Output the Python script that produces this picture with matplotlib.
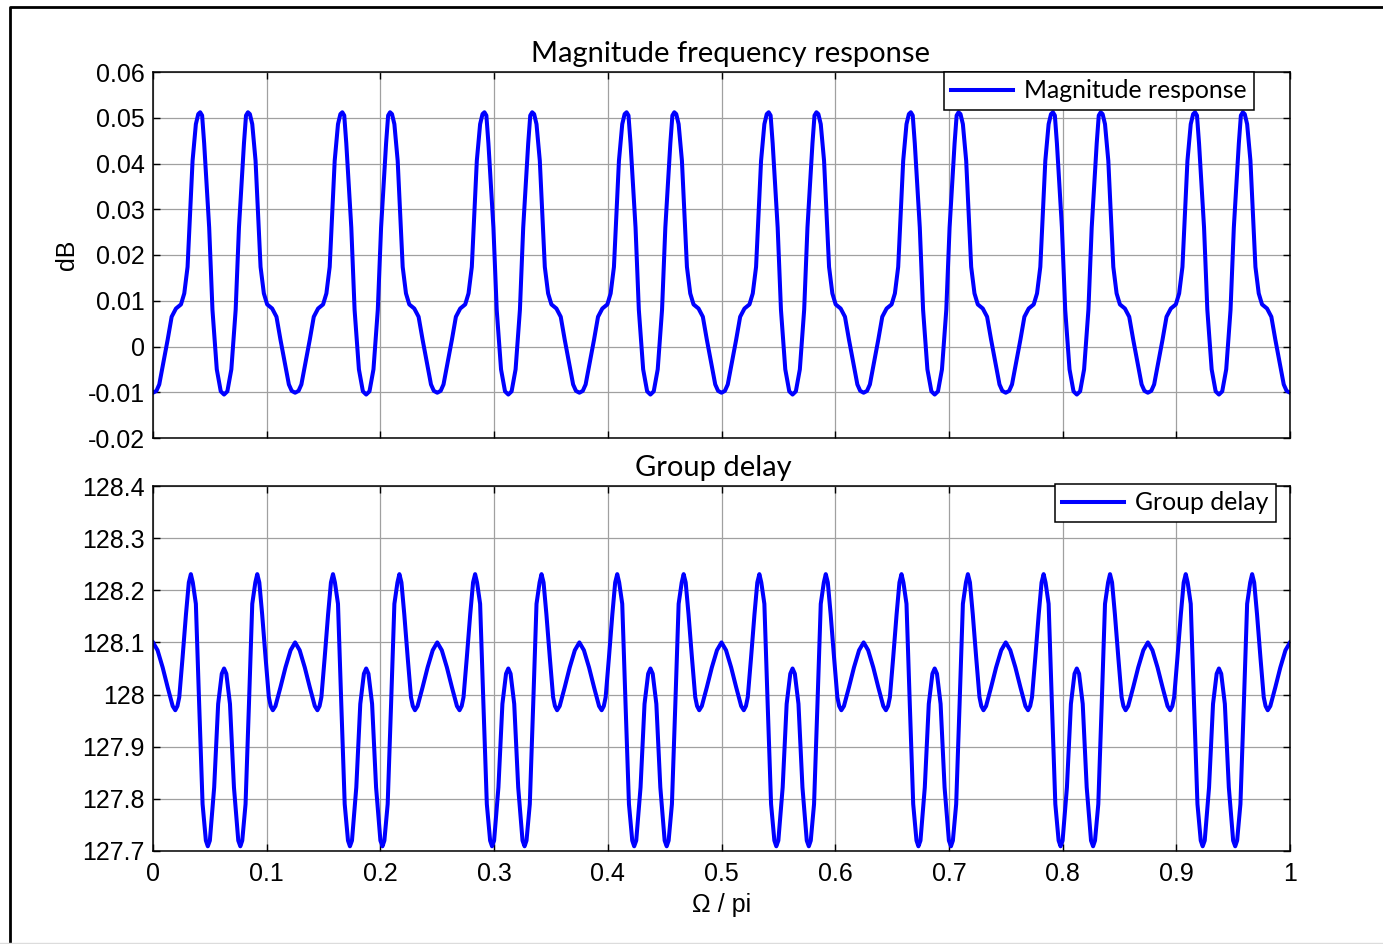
import numpy as np
import matplotlib
matplotlib.use("Agg")
import matplotlib.pyplot as plt
from matplotlib.lines import Line2D

# ---------------- data ----------------
period = 0.125
period_starts = [0.0, 0.125, 0.25, 0.375, 0.5, 0.625, 0.75, 0.875]

# one period of the magnitude response (offset within period, dB)
mag_dx = [0.0000, 0.0030, 0.0055, 0.0085, 0.0129, 0.0164, 0.0202, 0.0246,
          0.0275, 0.0304, 0.0327, 0.0348, 0.0377, 0.0398, 0.0415, 0.0432,
          0.0450, 0.0494, 0.0523, 0.0561, 0.0596, 0.0625, 0.0654, 0.0689,
          0.0727, 0.0756, 0.0800, 0.0818, 0.0835, 0.0852, 0.0873, 0.0902,
          0.0923, 0.0946, 0.0975, 0.1004, 0.1048, 0.1086, 0.1121, 0.1165,
          0.1195, 0.1220]
mag_y = [-0.0101, -0.0097, -0.0083, -0.0043, 0.0015, 0.0065, 0.0083, 0.0092,
         0.0116, 0.0174, 0.0297, 0.0406, 0.0486, 0.0508, 0.0512, 0.0505,
         0.0444, 0.0260, 0.0080, -0.0050, -0.0098, -0.0105, -0.0098, -0.0050,
         0.0080, 0.0260, 0.0444, 0.0505, 0.0512, 0.0508, 0.0486, 0.0406,
         0.0297, 0.0174, 0.0116, 0.0092, 0.0083, 0.0065, 0.0015, -0.0043,
         -0.0083, -0.0097]
mag_end = (1.0, -0.0101)

# one period of the group delay (offset within period, samples)
gd_dx = [0.0000, 0.0040, 0.0085, 0.0129, 0.0173, 0.0196, 0.0215, 0.0231,
         0.0260, 0.0290, 0.0315, 0.0333, 0.0350, 0.0377, 0.0406, 0.0436,
         0.0465, 0.0482, 0.0500, 0.0538, 0.0573, 0.0605, 0.0625, 0.0645,
         0.0677, 0.0712, 0.0750, 0.0768, 0.0785, 0.0814, 0.0844, 0.0873,
         0.0900, 0.0917, 0.0935, 0.0960, 0.0990, 0.1019, 0.1035, 0.1054,
         0.1077, 0.1121, 0.1165, 0.1210]
gd_y = [128.100, 128.085, 128.052, 128.014, 127.978, 127.970, 127.978, 127.995,
        128.071, 128.154, 128.215, 128.231, 128.215, 128.174, 127.982, 127.790,
        127.720, 127.709, 127.720, 127.822, 127.982, 128.040, 128.050, 128.040,
        127.982, 127.822, 127.720, 127.709, 127.720, 127.790, 127.982, 128.174,
        128.215, 128.231, 128.215, 128.154, 128.071, 127.995, 127.978, 127.970,
        127.978, 128.014, 128.052, 128.085]
gd_end = (1.0, 128.100)

x_ticks = [0, 0.1, 0.2, 0.3, 0.4, 0.5, 0.6, 0.7, 0.8, 0.9, 1]
x_ticklabels = ["0", "0.1", "0.2", "0.3", "0.4", "0.5", "0.6", "0.7", "0.8", "0.9", "1"]
mag_yticks = [-0.02, -0.01, 0, 0.01, 0.02, 0.03, 0.04, 0.05, 0.06]
mag_yticklabels = ["-0.02", "-0.01", "0", "0.01", "0.02", "0.03", "0.04", "0.05", "0.06"]
gd_yticks = [127.7, 127.8, 127.9, 128.0, 128.1, 128.2, 128.3, 128.4]
gd_yticklabels = ["127.7", "127.8", "127.9", "128", "128.1", "128.2", "128.3", "128.4"]


def build(starts, dx, y, end):
    xs, ys = [], []
    for s in starts:
        xs.extend([s + d for d in dx])
        ys.extend(y)
    xs.append(end[0])
    ys.append(end[1])
    return np.array(xs), np.array(ys)


mag_x, mag_v = build(period_starts, mag_dx, mag_y, mag_end)
gd_x, gd_v = build(period_starts, gd_dx, gd_y, gd_end)

# ---------------- figure ----------------
W, H = 1383, 944
fig = plt.figure(figsize=(W / 100, H / 100), dpi=100)
fig.patch.set_facecolor("white")

TICKFONT = ["Liberation Sans", "DejaVu Sans"]
TITLEFONT = ["Lato", "DejaVu Sans"]
tick_fs = 18
title_fs = 21
legend_fs = 17.8


def px_rect(l, r, t, b):
    return [l / W, 1 - b / H, (r - l) / W, (b - t) / H]


ax1 = fig.add_axes(px_rect(153, 1290, 72, 438))
ax2 = fig.add_axes(px_rect(153, 1290, 486, 851))

blue = (0, 0, 1)
ax1.plot(mag_x, mag_v, color=blue, lw=2.9, label="Magnitude response",
         solid_joinstyle="round")
ax2.plot(gd_x, gd_v, color=blue, lw=2.9, label="Group delay",
         solid_joinstyle="round")

for ax in (ax1, ax2):
    ax.set_xlim(0, 1)
    ax.set_xticks(x_ticks)
    ax.grid(True, color="#a0a0a0", lw=0.9, ls="-")
    ax.set_axisbelow(True)
    ax.tick_params(direction="in", length=5, width=1, top=True, right=True,
                   labelsize=tick_fs, color="black")
    ax.tick_params(axis="y", pad=6)
    ax.tick_params(axis="x", pad=8)
    for sp in ax.spines.values():
        sp.set_linewidth(1.1)
        sp.set_color("black")

ax1.set_ylim(-0.02, 0.06)
ax1.set_yticks(mag_yticks)
ax1.set_yticklabels(mag_yticklabels, family=TICKFONT, fontsize=tick_fs)
ax1.set_xticklabels([])

ax2.set_ylim(127.7, 128.4)
ax2.set_yticks(gd_yticks)
ax2.set_yticklabels(gd_yticklabels, family=TICKFONT, fontsize=tick_fs)
ax2.set_xticklabels(x_ticklabels, family=TICKFONT, fontsize=tick_fs)

ax1.set_title("Magnitude frequency response", family=TITLEFONT,
              fontsize=title_fs, x=0.508, pad=7)
ax2.set_title("Group delay", family=TITLEFONT, fontsize=title_fs,
              x=0.4925, pad=7)

ax1.set_ylabel("dB", family=TICKFONT, fontsize=tick_fs, labelpad=6)
ax2.set_xlabel("Ω / pi", family=TICKFONT, fontsize=tick_fs, labelpad=5)

for ax, anchor in ((ax1, ((1254 - 153) / 1137, 1.0)),
                   (ax2, ((1276 - 153) / 1137, (851 - 484) / 365))):
    leg = ax.legend(loc="upper right", bbox_to_anchor=anchor,
                    prop={"family": TITLEFONT, "size": legend_fs},
                    frameon=True, fancybox=False, shadow=False,
                    borderaxespad=0, handlelength=2.5, handletextpad=0.45,
                    borderpad=0.3, framealpha=1)
    leg.get_frame().set_edgecolor("black")
    leg.get_frame().set_linewidth(1.1)

# figure outer frame (left and top dark border, faint bottom line)
fig.add_artist(Line2D([9.5 / W, 9.5 / W, 1.0], [0.0, 1 - 7 / H, 1 - 7 / H],
                      transform=fig.transFigure, color="black", lw=2.0))
fig.add_artist(Line2D([0.0, 1.0], [1 - 942.5 / H, 1 - 942.5 / H],
                      transform=fig.transFigure, color="#dcdcdc", lw=1.0))

fig.savefig("out.png", dpi=100, facecolor="white")
